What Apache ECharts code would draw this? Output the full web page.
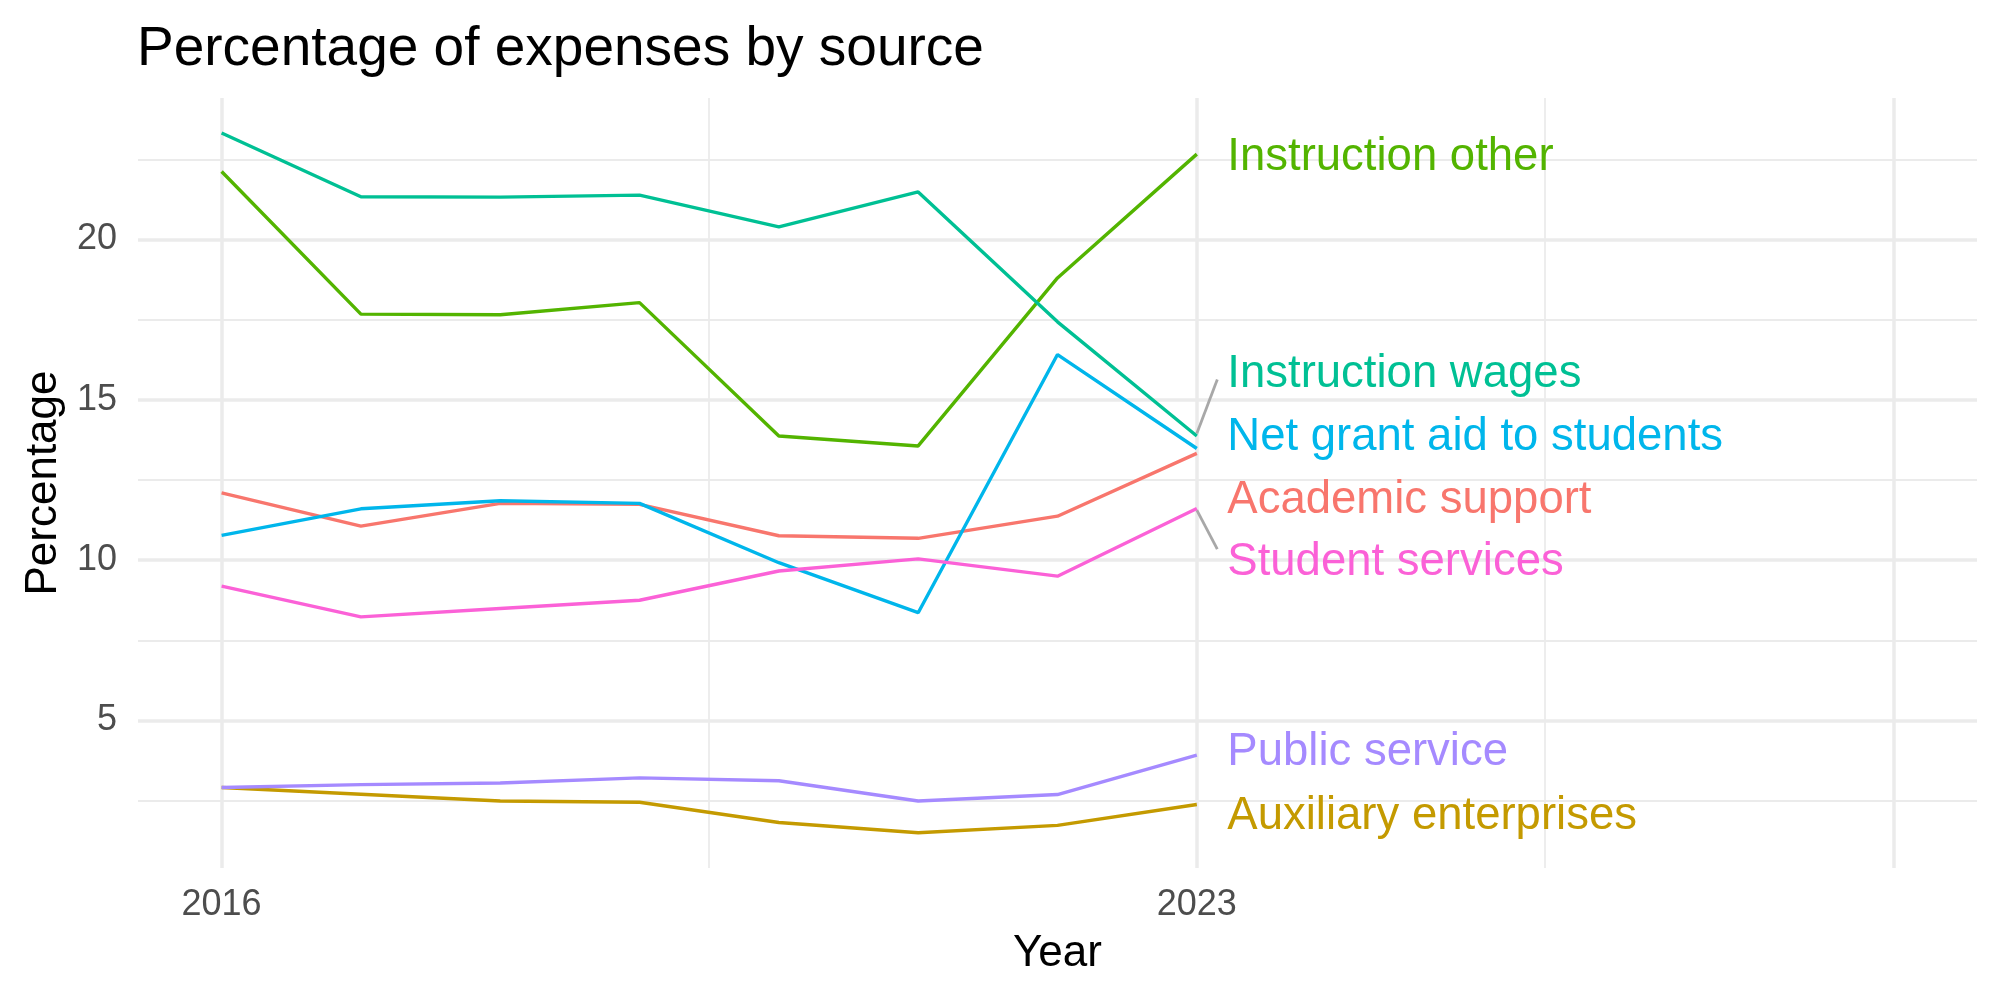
<!DOCTYPE html>
<html>
<head>
<meta charset="utf-8">
<script src="https://cdn.jsdelivr.net/npm/echarts@6/dist/echarts.min.js"></script>
<style>
html, body { margin: 0; padding: 0; background: #ffffff; }
#chart { width: 2000px; height: 1000px; }
</style>
</head>
<body>
<div id="chart"></div>
<script>
// data
const years = [2016, 2017, 2018, 2019, 2020, 2021, 2022, 2023];
const sources = ['Academic support', 'Auxiliary enterprises', 'Instruction other', 'Instruction wages',
                 'Net grant aid to students', 'Public service', 'Student services'];
const academicSupport   = [12.10, 11.06, 11.77, 11.74, 10.76, 10.68, 11.37, 13.33];
const auxiliary         = [2.91, 2.70, 2.49, 2.45, 1.82, 1.50, 1.73, 2.38];
const instructionOther  = [22.12, 17.67, 17.65, 18.03, 13.87, 13.56, 18.80, 22.66];
const instructionWages  = [23.32, 21.33, 21.32, 21.38, 20.39, 21.48, 17.43, 13.87];
const netGrantAid       = [10.77, 11.60, 11.85, 11.77, 9.92, 8.36, 16.41, 13.48];
const publicService     = [2.91, 3.00, 3.05, 3.21, 3.12, 2.49, 2.69, 3.92];
const studentServices   = [9.19, 8.23, 8.49, 8.75, 9.66, 10.04, 9.50, 11.61];
const seriesValues = [academicSupport, auxiliary, instructionOther, instructionWages,
                      netGrantAid, publicService, studentServices];
const colors = ['#F8766D', '#C49A00', '#53B400', '#00C094', '#00B6EB', '#A58AFF', '#FB61D7'];

// where the repelled labels sit (y in data units)
const labelY = [11.86, 2.02, 22.55, 15.80, 13.83, 4.00, 9.93];
// grey connector segments: [series index, start y, end x, end y]
const connectors = [[3, 13.95, 2023.147, 15.63], [6, 11.56, 2023.147, 10.34]];

const xMajor = [2016, 2023, 2028];
const xMinor = [2019.5, 2025.5];
const yMajor = [5, 10, 15, 20];
const yMinor = [2.5, 7.5, 12.5, 17.5, 22.5];
const xLabels = [2016, 2023];

const FONT = '"Liberation Sans", Arial, Helvetica, sans-serif';

let chart = echarts.init(document.getElementById('chart'), null, { renderer: 'canvas' });

let gridLines = [];
xMajor.forEach(v => gridLines.push({ xAxis: v, lineStyle: { width: 3.5 } }));
xMinor.forEach(v => gridLines.push({ xAxis: v, lineStyle: { width: 1.8 } }));
yMajor.forEach(v => gridLines.push({ yAxis: v, lineStyle: { width: 3.5 } }));
yMinor.forEach(v => gridLines.push({ yAxis: v, lineStyle: { width: 1.8 } }));

let series = [{
    type: 'line',
    data: [],
    z: 0,
    silent: true,
    markLine: {
        z: 0,
        silent: true,
        animation: false,
        symbol: ['none', 'none'],
        label: { show: false },
        lineStyle: { color: '#EBEBEB', type: 'solid' },
        data: gridLines
    }
}];

sources.forEach((name, i) => {
    series.push({
        name: name,
        type: 'line',
        z: 3,
        showSymbol: false,
        data: years.map((y, j) => [y, seriesValues[i][j]]),
        lineStyle: { color: colors[i], width: 3.4 },
        itemStyle: { color: colors[i] }
    });
});

connectors.forEach(c => {
    series.push({
        type: 'line',
        z: 2,
        showSymbol: false,
        silent: true,
        data: [[years[years.length - 1], c[1]], [c[2], c[3]]],
        lineStyle: { color: '#A8A8A8', width: 2.8 }
    });
});

// text labels at the line ends (scatter defaults to opacity 0.8, so force 1)
series.push({
    type: 'scatter',
    z: 4,
    symbolSize: 1,
    itemStyle: { color: 'rgba(255,255,255,0)', opacity: 1 },
    data: sources.map((name, i) => ({
        name: name,
        value: [years[years.length - 1], labelY[i]],
        label: { color: colors[i] }
    })),
    label: {
        show: true,
        position: 'right',
        distance: 30,
        formatter: '{b}',
        fontSize: 45.5,
        fontFamily: FONT
    }
});

chart.setOption({
    animation: false,
    backgroundColor: '#ffffff',
    title: {
        text: 'Percentage of expenses by source',
        left: 137,
        top: 22,
        padding: 0,
        textStyle: { color: '#000000', fontSize: 55, fontWeight: 'normal', fontFamily: FONT }
    },
    grid: { left: 138, right: 23, top: 98, bottom: 132 },
    xAxis: {
        type: 'value',
        min: 2015.4,
        max: 2028.6,
        name: 'Year',
        nameLocation: 'middle',
        nameGap: 64,
        nameTextStyle: { color: '#000000', fontSize: 44, fontFamily: FONT },
        axisLine: { show: false },
        axisTick: { show: false },
        splitLine: { show: false },
        axisLabel: {
            customValues: xLabels,
            formatter: v => String(v),
            color: '#4D4D4D',
            fontSize: 36,
            fontFamily: FONT,
            margin: 19
        }
    },
    yAxis: {
        type: 'value',
        min: 0.40,
        max: 24.41,
        name: 'Percentage',
        nameLocation: 'middle',
        nameGap: 70,
        nameTextStyle: { color: '#000000', fontSize: 44, fontFamily: FONT },
        axisLine: { show: false },
        axisTick: { show: false },
        splitLine: { show: false },
        axisLabel: {
            customValues: yMajor,
            formatter: v => String(v),
            color: '#4D4D4D',
            fontSize: 36,
            fontFamily: FONT,
            margin: 21
        }
    },
    series: series
});
</script>
</body>
</html>
